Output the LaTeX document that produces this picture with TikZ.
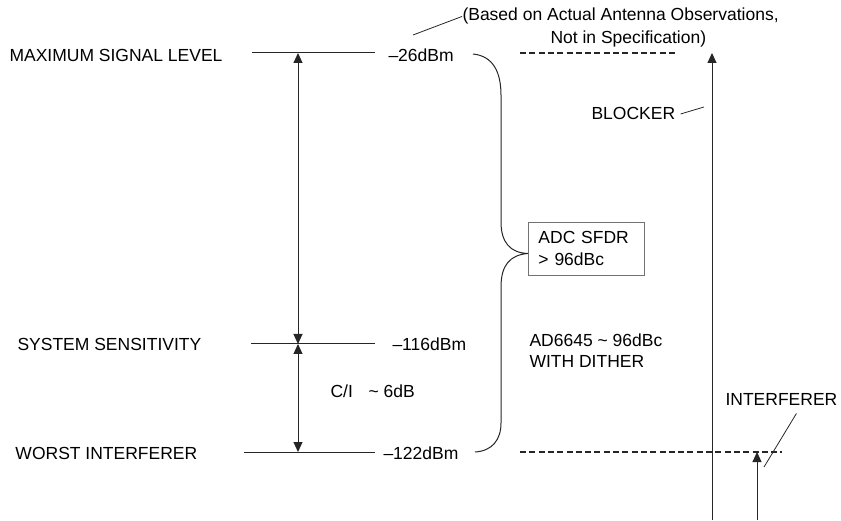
\documentclass[tikz,border=0pt]{standalone}
\usepackage{fontspec}
\setmainfont{Liberation Sans}
\usetikzlibrary{arrows.meta}
\begin{document}
\begin{tikzpicture}[x=1pt,y=-1pt, line width=1pt, draw=black!85,
  lbl/.style={anchor=base west, inner sep=0pt, text=black, font=\fontsize{17.5}{21}\selectfont},
  tipa/.style={-{Triangle[length=10pt,width=9pt]}},
  dimarrow/.style={{Triangle[length=10pt,width=9pt]}-{Triangle[length=10pt,width=9pt]}},
  dashline/.style={line width=1.3pt, dash pattern=on 6pt off 3.3pt},
  leader/.style={line width=0.8pt},
  specbox/.style={draw=black!55, line width=0.9pt, anchor=north west, minimum width=116pt, minimum height=53pt,
    inner xsep=10pt, inner ysep=0pt, text width=96pt, align=left, text=black,
    font=\fontsize{17.5}{22}\selectfont}]

\useasboundingbox (0,0) rectangle (841,521);

% labels
\node[lbl] (maxl) at (9,62) {MAXIMUM SIGNAL LEVEL};
\node[lbl] (sensl) at (17,351) {SYSTEM SENSITIVITY};
\node[lbl] (worstl) at (15,459) {WORST INTERFERER};
\node[lbl] (v26) at (388,62) {–26dBm};
\node[lbl] (v116) at (392,351) {–116dBm};
\node[lbl] (v122) at (383,459) {–122dBm};
\node[lbl] (ci) at (330,398) {C/I\hspace{0.9em}\textasciitilde{} 6dB};
\node[lbl] (blk) at (591,120) {BLOCKER};
\node[lbl] (intl) at (725,406) {INTERFERER};
\node[lbl] (ad) at (529,347) {AD6645 \textasciitilde{} 96dBc};
\node[lbl] (dith) at (529,368) {WITH DITHER};
\node[lbl] (obs1) at (462,21) {(Based on Actual Antenna Observations,};
\node[lbl] (obs2) at (550,44) {Not in Specification)};
\node[specbox] (box) at (528,222) {ADC SFDR\\> 96dBc};

% level lines
\coordinate (m1) at (252,53);  \coordinate (m2) at (375,53);
\coordinate (s1) at (251,344); \coordinate (s2) at (375,344);
\coordinate (w1) at (244,452); \coordinate (w2) at (375,452);
\draw (m1) -- (m2);
\draw (s1) -- (s2);
\draw (w1) -- (w2);

% dimension arrows
\coordinate (am) at (298,53);
\coordinate (as) at (298,344);
\coordinate (aw) at (298,452);
\draw[dimarrow] (as) -- (am);
\draw[dimarrow] (aw) -- (as);

% brace
\coordinate (b1) at (473,54);
\coordinate (bw) at (475,452);
\draw (b1) .. controls (493,56) and (501,72) .. (501,95) -- (501,222)
  .. controls (501,242) and (510,253) .. ([yshift=-4.5pt]box.west)
  .. controls (510,255) and (501,265) .. (501,287) -- (501,423)
  .. controls (501,440) and (492,451) .. (bw);

% dashed reference levels
\coordinate (d1a) at (520,53);  \coordinate (d1b) at (677,53);
\coordinate (d2a) at (520,452); \coordinate (d2b) at (782,452);
\draw[dashline] (d1a) -- (d1b);
\draw[dashline] (d2a) -- (d2b);

% blocker and interferer
\coordinate (bb) at (712,520); \coordinate (bt) at (712,53);
\coordinate (ib) at (757,520); \coordinate (it) at (757,452);
\draw[tipa] (bb) -- (bt);
\draw[tipa] (ib) -- (it);

% leaders
\coordinate (blkp) at (704,107);
\draw[leader] ([xshift=5pt]blk.east) -- (blkp);
\coordinate (intp) at (764,467);
\draw[leader] ([shift={(15,7)}]intl.south) -- (intp);
\coordinate (obsp) at (413,35);
\draw[leader] (obs1.west) -- (obsp);
\end{tikzpicture}
\end{document}
